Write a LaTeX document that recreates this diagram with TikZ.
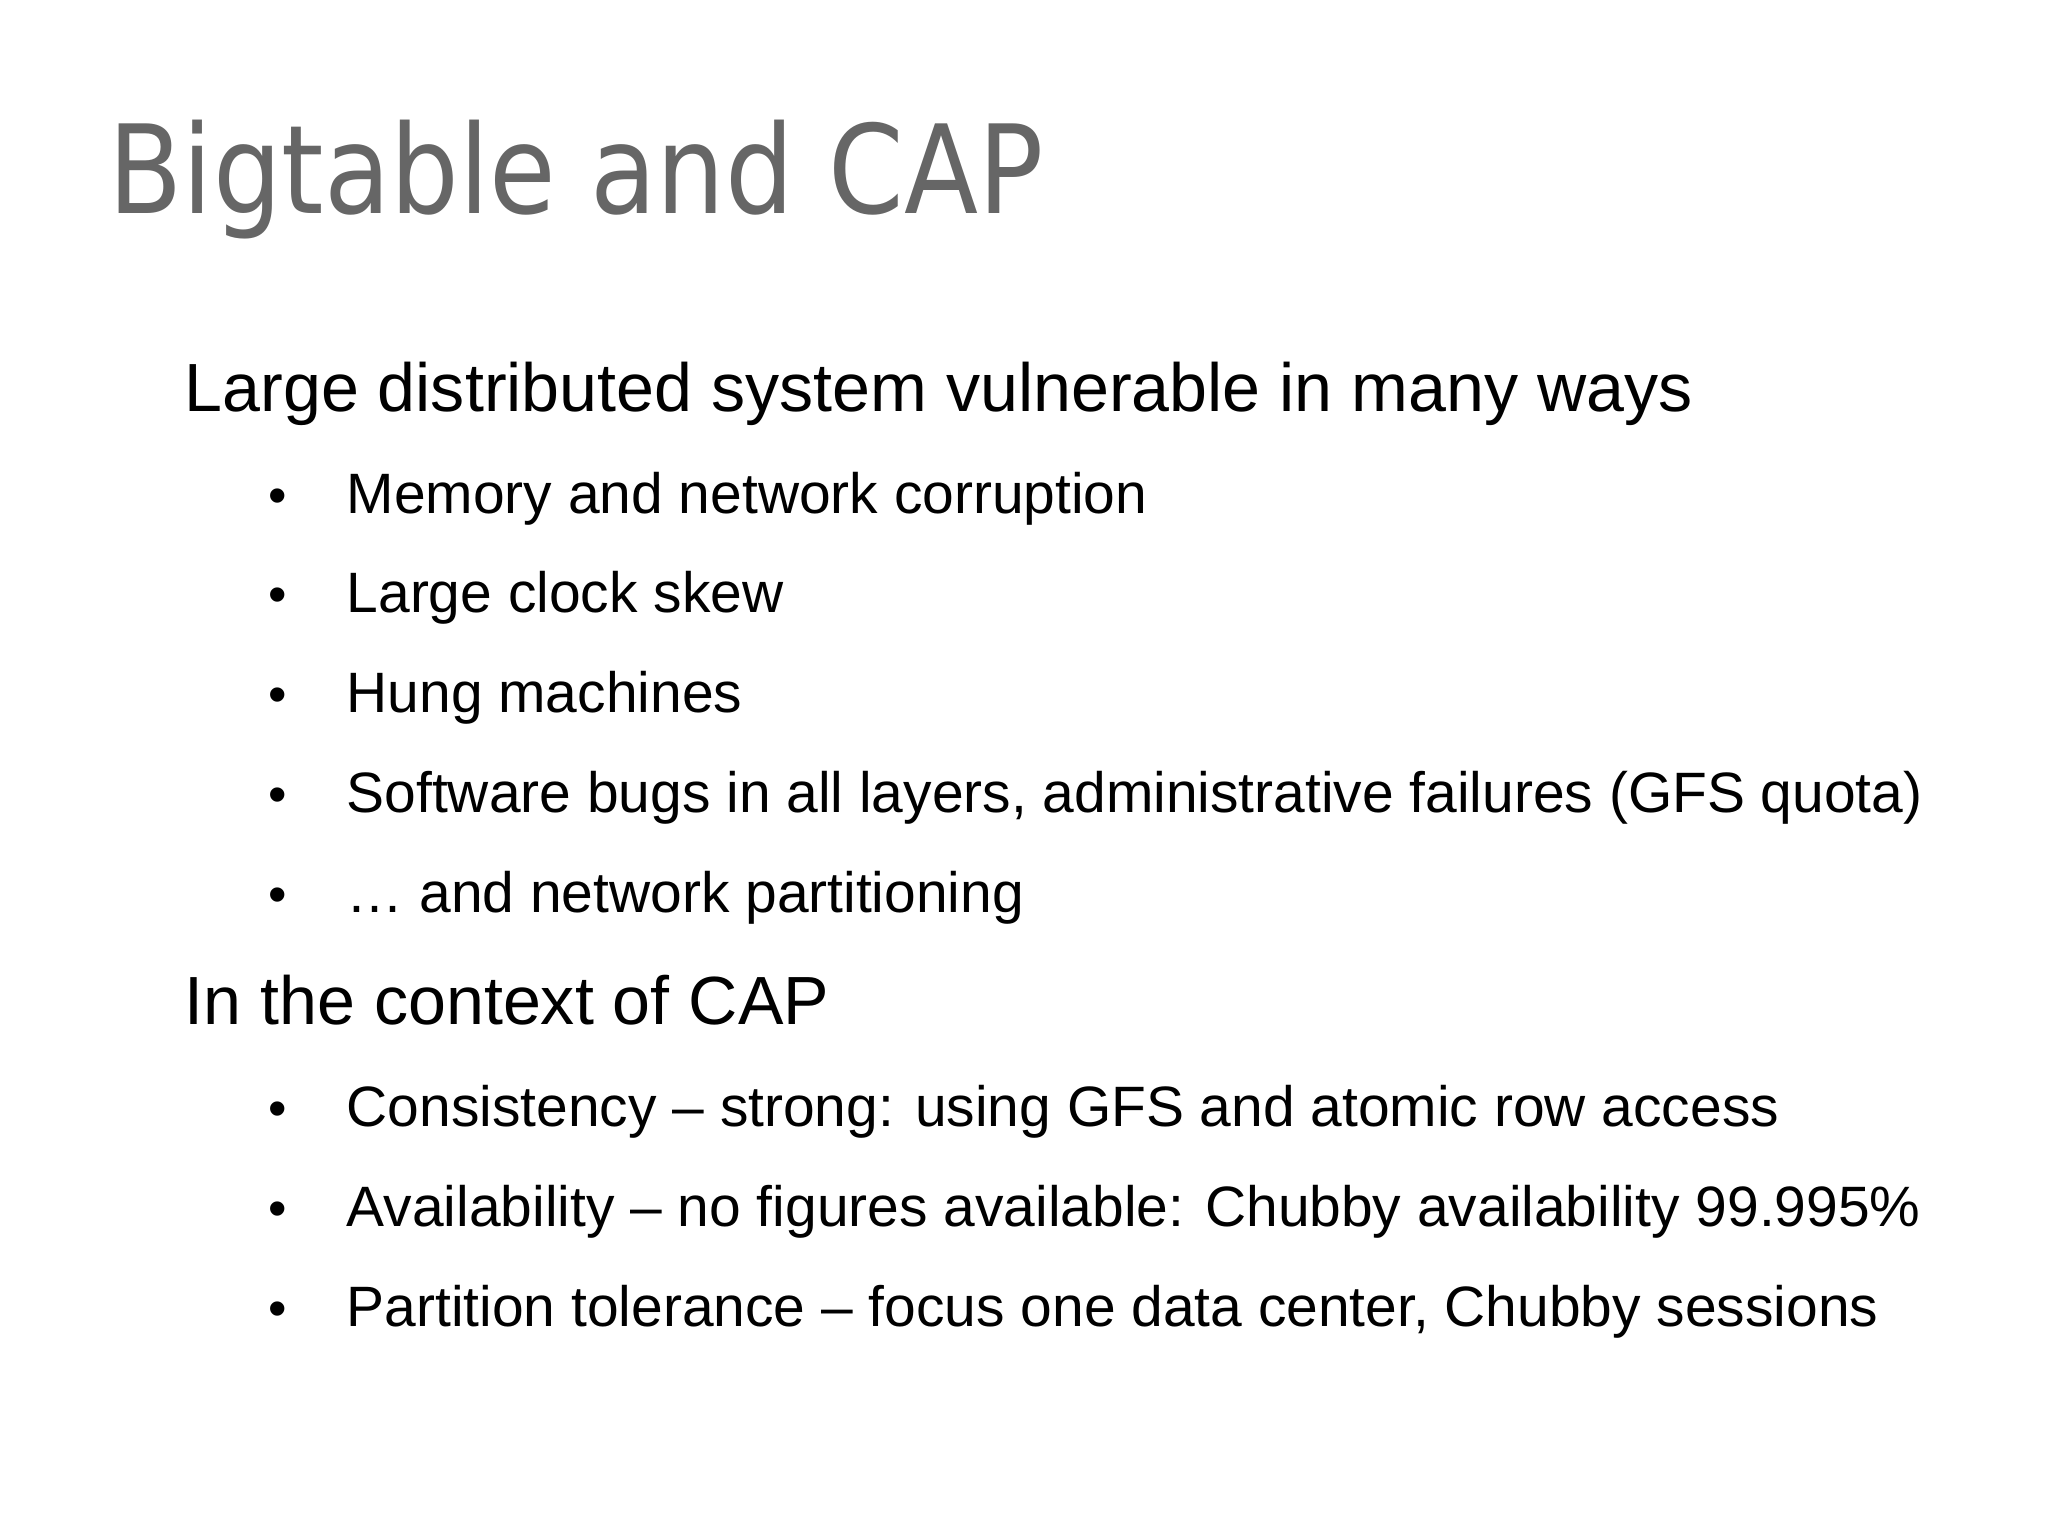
\documentclass[tikz,border=0pt]{standalone}
\usepackage{fontspec}
\setmainfont{Liberation Sans}
\newfontfamily\titlefont{DejaVu Sans}
\begin{document}
\begin{tikzpicture}[x=1cm,y=1cm,
  every node/.style={anchor=base west,inner sep=0pt},
  ttl/.style={font=\titlefont\fontsize{35}{40}\selectfont,text=black!60},
  hd/.style={font=\fontsize{19.4}{22}\selectfont},
  it/.style={font=\fontsize{16.2}{20}\selectfont},
  bl/.style={font=\fontsize{15}{20}\selectfont}]
\useasboundingbox (0,0) rectangle (20.48,15.36);
\node[ttl] (t) at (1.08,13.22) {\scalebox{0.88}[1]{Bigtable and CAP}};
\node[hd] (h1) at (1.84,11.24) {Large distributed system vulnerable in many ways};
\foreach \y/\txt [count=\i] in {10.22/Memory and network corruption,
  9.23/Large clock skew, 8.23/Hung machines,
  7.23/{Software bugs in all layers, administrative failures (GFS quota)},
  6.23/{\dots\ and network partitioning}}{
  \node[bl] (b\i) at (2.68,\y) {\textbullet};
  \node[it] (i\i) at (3.46,\y) {\txt};
}
\node[hd] (h2) at (1.84,5.11) {In the context of CAP};
\foreach \y/\txt [count=\i] in {4.09/{Consistency – strong: using GFS and atomic row access},
  3.09/{Availability – no figures available: Chubby availability 99.995\%},
  2.09/{Partition tolerance – focus one data center, Chubby sessions}}{
  \node[bl] (c\i) at (2.68,\y) {\textbullet};
  \node[it] (j\i) at (3.46,\y) {\txt};
}
\end{tikzpicture}
\end{document}
